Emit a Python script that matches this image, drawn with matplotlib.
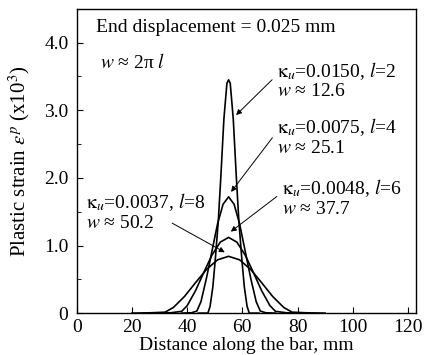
import matplotlib
matplotlib.use('Agg')
import matplotlib.pyplot as plt

plt.rcParams['font.family'] = ['Liberation Serif', 'DejaVu Serif']
plt.rcParams['mathtext.fontset'] = 'stix'

# plastic strain profiles (x10^-3), distance in mm
x_l2 = [44, 47.5, 48.3, 49.3, 50.2, 51.3, 52.2, 53.3, 54.4, 55, 55.6, 56.7, 57.8, 58.7, 59.8, 60.7, 61.7, 62.5, 66]
y_l2 = [0, 0, 0.10, 0.39, 0.80, 1.38, 2.02, 2.87, 3.40, 3.45, 3.40, 2.87, 2.02, 1.38, 0.80, 0.39, 0.10, 0, 0]

x_l4 = [38, 41.5, 43.5, 45, 47, 49, 51, 53, 55, 57, 59, 61, 63, 65, 66.5, 68.5, 72]
y_l4 = [0, 0.005, 0.03, 0.17, 0.52, 0.92, 1.32, 1.61, 1.72, 1.61, 1.32, 0.92, 0.52, 0.17, 0.03, 0.005, 0]

x_l6 = [30, 34, 38, 40, 43, 46, 49, 52, 55, 58, 61, 64, 67, 70, 72, 76, 80]
y_l6 = [0, 0.005, 0.026, 0.11, 0.33, 0.60, 0.86, 1.05, 1.12, 1.05, 0.86, 0.60, 0.33, 0.11, 0.026, 0.005, 0]

x_l8 = [20, 27, 32, 35, 39, 43, 47, 51, 55, 59, 63, 67, 71, 75, 78, 83, 90]
y_l8 = [0, 0.005, 0.014, 0.083, 0.245, 0.449, 0.646, 0.788, 0.84, 0.788, 0.646, 0.449, 0.245, 0.083, 0.014, 0.005, 0]

x_ticks = [0, 20, 40, 60, 80, 100, 120]
y_ticks = [0, 1, 2, 3, 4]
y_tick_labels = ['0', '1.0', '2.0', '3.0', '4.0']

fig = plt.figure(figsize=(4.34, 3.55), dpi=100)
ax = fig.add_axes([0.177, 0.118, 0.782, 0.857])

for xs, ys in [(x_l2, y_l2), (x_l4, y_l4), (x_l6, y_l6), (x_l8, y_l8)]:
    ax.plot(xs, ys, color='black', lw=1.2)

ax.set_xlim(0, 123)
ax.set_ylim(0, 4.5)
ax.set_xticks(x_ticks)
ax.set_yticks(y_ticks)
ax.set_yticklabels(y_tick_labels)
ax.set_yticks([0.5, 1.5, 2.5, 3.5], minor=True)
ax.tick_params(direction='in', labelsize=14, length=4)
ax.tick_params(axis='x', pad=4)
ax.tick_params(axis='y', pad=6)
ax.tick_params(which='minor', direction='in', length=3)
for s in ax.spines.values():
    s.set_linewidth(1.0)

ax.set_xlabel('Distance along the bar, mm', fontsize=14)
ax.xaxis.set_label_coords(0.5, -0.077)
ax.set_ylabel(r'Plastic strain $\varepsilon^p$ (x10$^3$)', fontsize=15)
ax.yaxis.set_label_coords(-0.132, 0.5)

ax.text(7.0, 4.23, 'End displacement = 0.025 mm', fontsize=14, va='center')
ax.text(8.3, 3.71, r'$w$ ≈ 2π $l$', fontsize=14, va='center')

arw = dict(arrowstyle='-|>', color='black', lw=0.7, mutation_scale=8, relpos=(0, 0.62))
opts = dict(fontsize=14, linespacing=1.1, va='center')
ax.annotate('$\\mathrm{κ}_u$=0.0150, $l$=2\n$w$ ≈ 12.6', xy=(57.0, 2.90), xytext=(72.5, 3.45),
            arrowprops=arw, **opts)
ax.annotate('$\\mathrm{κ}_u$=0.0075, $l$=4\n$w$ ≈ 25.1', xy=(55.3, 1.76), xytext=(72.5, 2.61),
            arrowprops=arw, **opts)
ax.annotate('$\\mathrm{κ}_u$=0.0048, $l$=6\n$w$ ≈ 37.7', xy=(55.0, 1.18), xytext=(74.3, 1.71),
            arrowprops=arw, **opts)
ax.annotate('', xy=(54.5, 0.88), xytext=(33.7, 1.35),
            arrowprops=dict(arrowstyle='-|>', color='black', lw=0.7, mutation_scale=8))
ax.text(3.3, 1.50, '$\\mathrm{κ}_u$=0.0037, $l$=8\n$w$ ≈ 50.2', **opts)

fig.savefig('out.png', dpi=100)
